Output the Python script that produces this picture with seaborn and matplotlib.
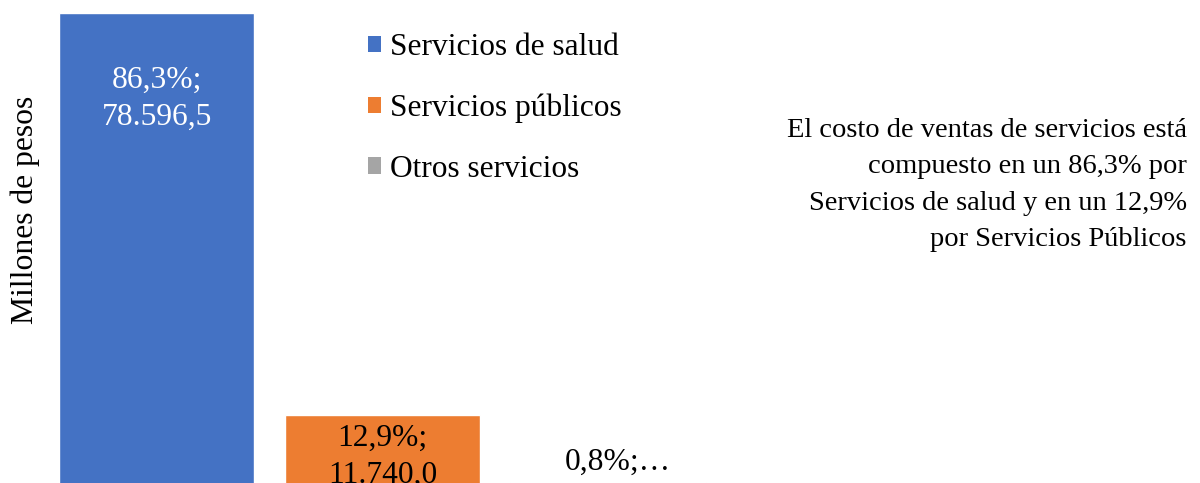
import matplotlib
matplotlib.use("Agg")
import matplotlib.pyplot as plt
from matplotlib.patches import Patch
import seaborn as sns
import pandas as pd

# Data
categorias = ["Servicios de salud", "Servicios públicos", "Otros servicios"]
valores = [78596.5, 11740.0, 728.6]
etiquetas = ["86,3%;\n78.596,5", "12,9%;\n11.740,0", "0,8%;…"]
colores = ["#4472C4", "#ED7D31", "#A5A5A5"]
nota = ("El costo de ventas de servicios está\n"
        "compuesto en un 86,3% por\n"
        "Servicios de salud y en un 12,9%\n"
        "por Servicios Públicos")

sns.set_theme(style="white")
plt.rcParams['font.family'] = ['Liberation Serif', 'DejaVu Serif']
plt.rcParams['text.color'] = 'black'

df = pd.DataFrame({"categoria": categorias, "valor": valores})

fig = plt.figure(figsize=(12, 4.83), dpi=100)
ax = fig.add_axes([0.0367, -0.0062, 0.564, 0.9967])

sns.barplot(data=df, x="categoria", y="valor", hue="categoria",
            palette=colores, width=0.865, legend=False, ax=ax, saturation=1)

ax.set_xlim(-0.5, 2.5)
ax.set_ylim(0, 80000)
ax.set_xticks([])
ax.set_yticks([])
ax.set_xlabel("")
ax.set_ylabel("Millones de pesos", fontsize=22.8, color="black", va="center")
ax.yaxis.set_label_coords(-0.028, 0.573)
sns.despine(ax=ax, left=True, bottom=True)

# data labels (offsets in points from bar top)
offsets = [(0, -62), (0, -30), (7, 14)]
text_colors = ["white", "black", "black"]
for i, (v, lab) in enumerate(zip(valores, etiquetas)):
    ax.annotate(lab, xy=(i, v), xytext=offsets[i], textcoords="offset points",
                ha="center", va="center", fontsize=22.7, color=text_colors[i],
                linespacing=1.37)

handles = [Patch(facecolor=c, edgecolor="none") for c in colores]
leg = fig.legend(handles, categorias, loc="upper left", bbox_to_anchor=(0.296, 0.957),
                 frameon=False, fontsize=22.6, handlelength=0.42, handleheight=0.42,
                 handletextpad=0.3, labelspacing=1.0, borderaxespad=0)
for t in leg.get_texts():
    t.set_color("black")

fig.text(0.989, 0.617, nota, ha="right", va="center", multialignment="right",
         fontsize=20.5, linespacing=1.6, color="black")

fig.savefig("out.png", dpi=100)
